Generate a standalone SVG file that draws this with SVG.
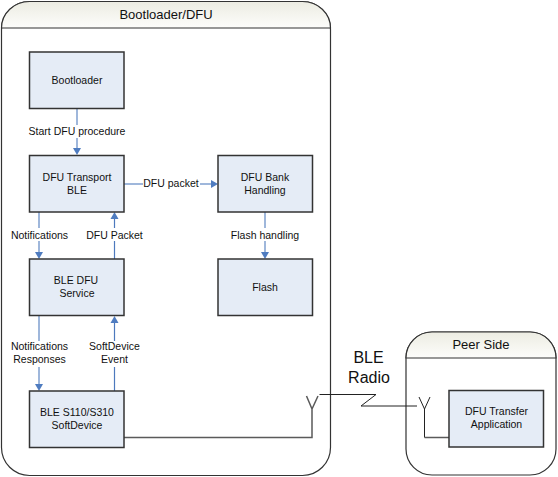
<svg xmlns="http://www.w3.org/2000/svg" width="558" height="477" viewBox="0 0 558 477">
<style>
text{font-family:"Liberation Sans",Arial,sans-serif;font-size:10.5px;fill:#111;text-anchor:middle}
.t{font-size:13px}
.p{font-size:13px}
.r{font-size:16px}
.n{fill:#e5ecf6;stroke:#333;stroke-width:1.5}
.c{fill:none;stroke:#7f9fcf;stroke-width:1.5}
.d{fill:none;stroke:#4d79bd;stroke-width:1.2}
.g{fill:none;stroke:#5a5a5a;stroke-width:1.5}
.k{fill:none;stroke:#222;stroke-width:1}
.lb{fill:#fff;stroke:none}
.a{fill:#4f7cc0;stroke:none}
</style>
<defs>
<linearGradient id="h" x1="0" y1="0" x2="0" y2="1"><stop offset="0" stop-color="#ecece2"/><stop offset="1" stop-color="#fdfdfb"/></linearGradient>
<path id="ah" class="a" d="M-4,-7 L4,-7 L0,0Z"/>
</defs>
<g id="container-bootloader">
<rect x="1.5" y="1.5" width="329" height="474" rx="28" ry="28" fill="#fff" stroke="#333" stroke-width="1.2"/>
<path d="M1.5,28 A28,26.5 0 0 1 29.5,1.5 H302.5 A28,26.5 0 0 1 330.500,28Z" fill="url(#h)" stroke="#333" stroke-width="1.2"/>
<text class="t" x="166" y="19">Bootloader/DFU</text>
</g>
<g id="container-peer">
<rect x="406" y="332" width="150" height="143" rx="26" ry="26" fill="#fff" stroke="#333" stroke-width="1.2"/>
<path d="M406,358 A26,26 0 0 1 432,332 H530 A26,26 0 0 1 556,358Z" fill="url(#h)" stroke="#333" stroke-width="1.2"/>
<text class="p" x="481" y="349">Peer Side</text>
</g>
<g id="connectors">
<path class="c" d="M77,108.500V148"/><use href="#ah" x="77" y="155"/>
<path class="c" d="M124,184H211"/><path class="a" d="M211,180L218,184L211,188Z"/>
<path class="c" d="M39,212V252"/><use href="#ah" x="39" y="259"/>
<path class="d" d="M114.500,259V219"/><path class="a" d="M110.500,219L114.500,212L118.500,219Z"/>
<path class="c" d="M265,212V252"/><use href="#ah" x="265" y="259"/>
<path class="c" d="M39,315.500V384"/><use href="#ah" x="39" y="391"/>
<path class="d" d="M114.500,391V323"/><path class="a" d="M110.500,323L114.500,316L118.500,323Z"/>
<path class="g" d="M124,437.500H312V409M312,409L306.500,396M312,409L318,396"/>
<path class="k" d="M319.500,394.500H376L361,406H417"/>
<path class="k" d="M424.500,437.500V409M424.500,409L419,397M424.500,409L430,397"/>
<path class="g" d="M424.500,437.500H449"/>
</g>
<g id="edge-labels">
<rect class="lb" x="27" y="125" width="100" height="13"/><text x="77" y="135">Start DFU procedure</text>
<rect class="lb" x="143" y="177" width="57" height="13"/><text x="171" y="187">DFU packet</text>
<rect class="lb" x="9" y="228" width="61" height="13"/><text x="39.500" y="239">Notifications</text>
<rect class="lb" x="85" y="228" width="59" height="13"/><text x="114.500" y="239">DFU Packet</text>
<rect class="lb" x="230" y="228" width="70" height="13"/><text x="265" y="239">Flash handling</text>
<rect class="lb" x="9" y="341" width="61" height="26"/><text x="39.500" y="350">Notifications</text><text x="39.500" y="363">Responses</text>
<rect class="lb" x="88" y="341" width="53" height="26"/><text x="114.500" y="350">SoftDevice</text><text x="114.500" y="363">Event</text>
<text class="r" x="368.500" y="363">BLE</text><text class="r" x="369" y="383">Radio</text>
</g>
<g id="node-bootloader"><rect class="n" x="29.500" y="52" width="94.500" height="56.500"/><text x="77" y="84">Bootloader</text></g>
<g id="node-transport"><rect class="n" x="29.500" y="155.500" width="94.500" height="56.500"/><text x="77" y="181">DFU Transport</text><text x="77" y="194">BLE</text></g>
<g id="node-service"><rect class="n" x="29.500" y="259" width="94.500" height="56.500"/><text x="76" y="284">BLE DFU</text><text x="77" y="297">Service</text></g>
<g id="node-softdevice"><rect class="n" x="29.500" y="391" width="94.500" height="56.500"/><text x="77" y="416">BLE S110/S310</text><text x="77" y="429">SoftDevice</text></g>
<g id="node-bank"><rect class="n" x="218" y="155.500" width="94.500" height="56.500"/><text x="265" y="181">DFU Bank</text><text x="265" y="194">Handling</text></g>
<g id="node-flash"><rect class="n" x="218" y="259" width="94.500" height="56.500"/><text x="265" y="291">Flash</text></g>
<g id="node-app"><rect class="n" x="449" y="390.500" width="94.500" height="56.500"/><text x="496.500" y="415">DFU Transfer</text><text x="496.500" y="428">Application</text></g>
</svg>
